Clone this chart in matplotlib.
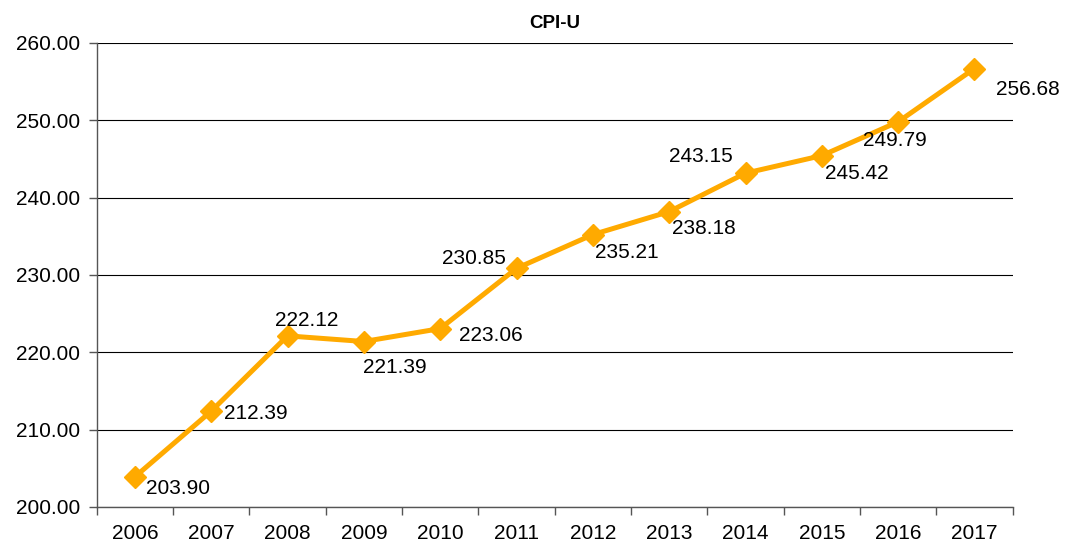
import matplotlib
matplotlib.use("Agg")
import matplotlib.pyplot as plt

years = ["2006", "2007", "2008", "2009", "2010", "2011", "2012", "2013", "2014", "2015", "2016", "2017"]
cpi = [203.90, 212.39, 222.12, 221.39, 223.06, 230.85, 235.21, 238.18, 243.15, 245.42, 249.79, 256.68]
yticks = [200, 210, 220, 230, 240, 250, 260]
# label offsets in pixels (dx, dy) relative to the point, with alignment
label_pos = [
    (11, -12, "left"), (13, -2, "left"), (19, 15, "center"), (31, -26, "center"),
    (19, -7, "left"), (-43, 10, "center"), (2, -18, "left"), (3, -17, "left"),
    (-45, 17, "center"), (3, -18, "left"), (-3, -19, "center"), (22, -21, "left"),
]

plt.rcParams['font.family'] = ['Liberation Sans', 'DejaVu Sans']
color = "#FFAA00"

fig = plt.figure(figsize=(10.75, 5.42), dpi=100)
ax = fig.add_axes([0.090, 0.0646, 0.852, 0.8564])
x = list(range(len(years)))
ax.plot(x, cpi, color=color, lw=3.6, marker="D", markersize=11, zorder=3)

for xi, v, (dx, dy, ha) in zip(x, cpi, label_pos):
    ax.annotate(f"{v:.2f}", (xi, v), xytext=(dx, dy), textcoords="offset pixels",
                ha=ha, va="center", fontsize=15, color="black", zorder=4)

ax.set_xlim(-0.5, len(years) - 0.5)
ax.set_ylim(200, 260)
ax.set_yticks(yticks)
ax.set_yticklabels([f"{t:.2f}" for t in yticks], fontsize=15)
ax.set_xticks(x)
ax.set_xticklabels(years, fontsize=15)
ax.set_xticks([i - 0.5 for i in range(len(years) + 1)], minor=True)
ax.tick_params(axis="x", which="major", length=0, pad=12)
ax.tick_params(axis="x", which="minor", length=6, width=1, color="#555555", direction="out")
ax.tick_params(axis="y", length=6, width=1, color="#555555", direction="out", pad=6)
ax.grid(axis="y", color="black", lw=0.8)
ax.set_axisbelow(True)
for s in ["top", "right"]:
    ax.spines[s].set_visible(False)
for s in ["left", "bottom"]:
    ax.spines[s].set_color("#555555")
    ax.spines[s].set_linewidth(1)
ax.set_title("CPI-U", fontsize=13.5, fontweight="bold", pad=11)

fig.savefig("out.png", dpi=100)
